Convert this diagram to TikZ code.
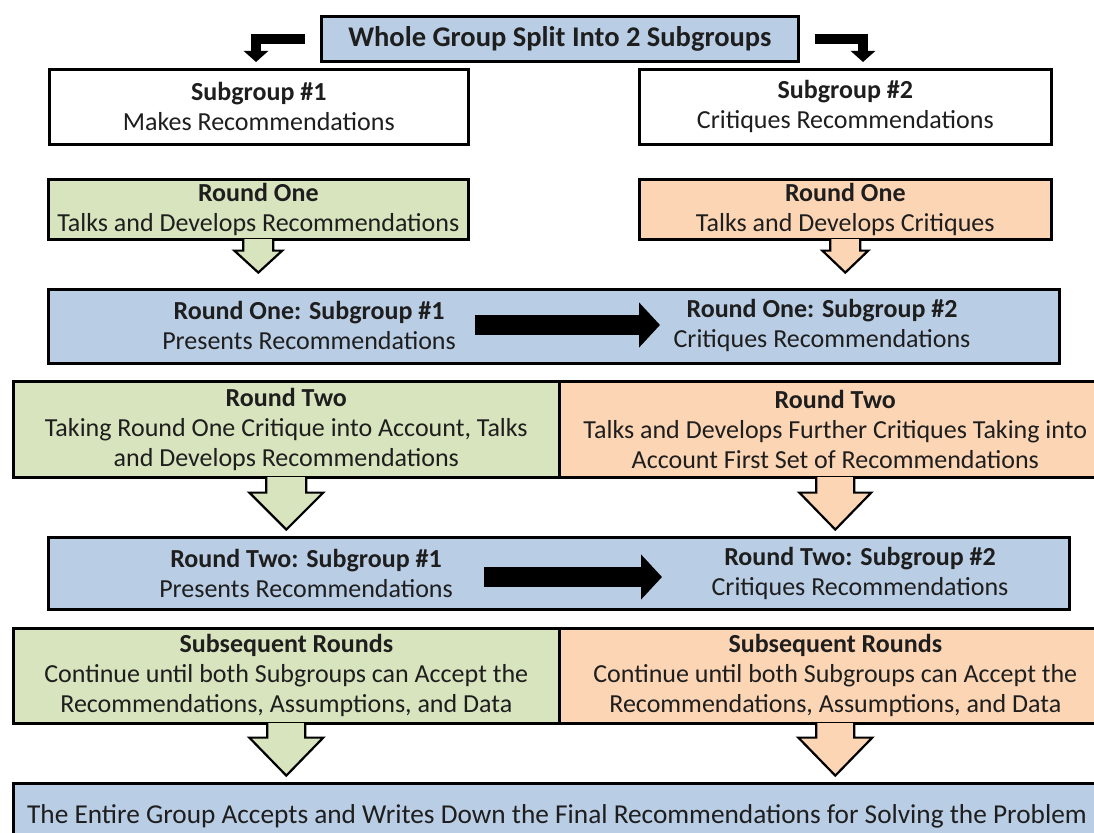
\documentclass[tikz,border=0pt]{standalone}
\usepackage{fontspec}
\setmainfont{Carlito}
\usetikzlibrary{arrows.meta,calc}
\definecolor{bluefill}{HTML}{B9CDE5}
\definecolor{greenfill}{HTML}{D7E4BD}
\definecolor{orangefill}{HTML}{FCD5B5}
\definecolor{textcol}{HTML}{1E1E1E}
\newcommand\hollowdown[6]{%
  \filldraw[fill=#6, draw=black, line width=2.2pt, line join=miter]
    ($(#1.south)+(-#2,-1.5)$) -- ++(0,#4+1.5) -- ++(-#3+#2,0) -- ++(#3,#5)
    -- ++(#3,-#5) -- ++(-#3+#2,0) -- ++(0,-#4-1.5);
}
\begin{document}
\begin{tikzpicture}[x=1pt,y=-1pt,
  box/.style={draw=black, line width=2.6pt, inner sep=0pt, anchor=north west,
    align=center, font=\fontsize{26}{30}\selectfont, text=textcol},
  txt/.style={align=center, font=\fontsize{26}{30}\selectfont, text=textcol, inner sep=0pt},
  bigarrow/.style={line width=20pt, -{Triangle[width=44pt,length=21pt]}},
  elbow/.style={line width=10pt, line join=miter, -{Triangle[width=24pt,length=11pt]}},
  ]
\useasboundingbox (0,0) rectangle (1094,832);
\clip (0,0) rectangle (1094,832);
\fill[white] (0,0) rectangle (1094,832);

% top
\node[box, fill=bluefill, minimum width=477, minimum height=45, font=\fontsize{28.5}{32}\selectfont] (top) at (320,15) {\textbf{Whole Group Split Into 2 Subgroups}};
\node[box, fill=white, minimum width=419, minimum height=75] (sg1) at (48,68) {\textbf{Subgroup \#1}\\Makes Recommendations};
\node[box, fill=white, minimum width=412, minimum height=75] (sg2) at (638,68) {\textbf{Subgroup \#2}\\Critiques Recommendations};

\coordinate (e1s) at ($(top.west)+(-15,0)$);
\coordinate (e1e) at (256,62);
\coordinate (e2s) at ($(top.east)+(15,0)$);
\coordinate (e2e) at (863,62);
\draw[elbow] (e1s) -| (e1e);
\draw[elbow] (e2s) -| (e2e);

% round one
\node[box, fill=greenfill, minimum width=420, minimum height=60] (r1g) at (47,178) {\textbf{Round One}\\Talks and Develops Recommendations};
\node[box, fill=orangefill, minimum width=412, minimum height=60] (r1o) at (638,178) {\textbf{Round One}\\Talks and Develops Critiques};
\hollowdown{r1g}{15}{24}{10}{22}{greenfill}
\hollowdown{r1o}{15}{23}{10}{22}{orangefill}

\node[box, fill=bluefill, minimum width=1011, minimum height=74] (r1b) at (47,288) {};
\node[txt] (r1bl) at (309,325) {\textbf{Round One: Subgroup \#1}\\Presents Recommendations};
\node[txt] (r1br) at (822,325) {\textbf{Round One: Subgroup \#2}\\Critiques Recommendations};
\coordinate (a1s) at (475,325);
\coordinate (a1e) at (660,325);
\draw[bigarrow] (a1s) -- (a1e);

% round two
\node[box, fill=greenfill, minimum width=546, minimum height=96] (r2g) at (12,380) {\textbf{Round Two}\\Taking Round One Critique into Account, Talks\\and Develops Recommendations};
\node[box, fill=orangefill, minimum width=552, minimum height=96] (r2o) at (558,380) {\textbf{Round Two}\\Talks and Develops Further Critiques Taking into\\Account First Set of Recommendations};
\hollowdown{r2g}{20}{37}{14}{37}{greenfill}
\hollowdown{r2o}{19}{36}{14}{37}{orangefill}

\node[box, fill=bluefill, minimum width=1021, minimum height=72] (r2b) at (47,536) {};
\node[txt] (r2bl) at (306,573) {\textbf{Round Two: Subgroup \#1}\\Presents Recommendations};
\node[txt] (r2br) at (860,573) {\textbf{Round Two: Subgroup \#2}\\Critiques Recommendations};
\coordinate (a2s) at (484,577);
\coordinate (a2e) at (662,577);
\draw[bigarrow] (a2s) -- (a2e);

% subsequent
\node[box, fill=greenfill, minimum width=546, minimum height=95] (sqg) at (12,627) {\textbf{Subsequent Rounds}\\Continue until both Subgroups can Accept the\\Recommendations, Assumptions, and Data};
\node[box, fill=orangefill, minimum width=552, minimum height=95] (sqo) at (558,627) {\textbf{Subsequent Rounds}\\Continue until both Subgroups can Accept the\\Recommendations, Assumptions, and Data};
\hollowdown{sqg}{19}{37}{13}{38}{greenfill}
\hollowdown{sqo}{19}{37}{13}{38}{orangefill}

% final
\node[box, fill=bluefill, minimum width=1100, minimum height=70] (fin) at (12,782) {};
\node[txt, font=\fontsize{27.3}{32}\selectfont] (fint) at (557,816) {The Entire Group Accepts and Writes Down the Final Recommendations for Solving the Problem};
\end{tikzpicture}
\end{document}
